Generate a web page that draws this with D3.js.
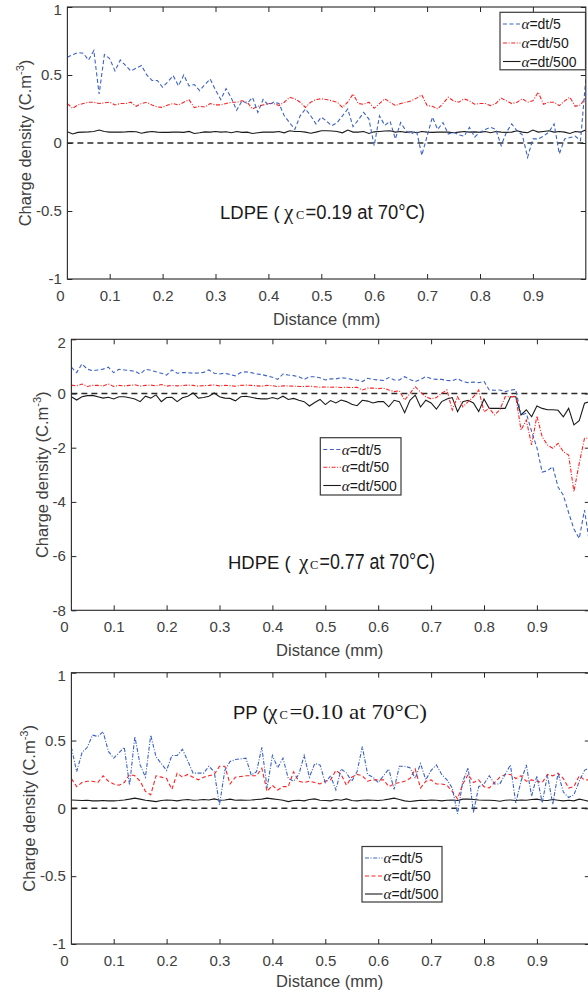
<!DOCTYPE html>
<html><head><meta charset="utf-8">
<script src="https://cdn.jsdelivr.net/npm/d3@7"></script>
<style>html,body{margin:0;padding:0;background:#fff;}svg{display:block;}</style>
</head><body>
<script>
// ---------- data ----------
const distance = [0.02,0.03,0.04,0.05,0.06,0.07,0.08,0.09,0.10,0.11,
0.12,0.13,0.14,0.15,0.16,0.17,0.18,0.19,0.20,0.21,
0.22,0.23,0.24,0.25,0.26,0.27,0.28,0.29,0.30,0.31,
0.32,0.33,0.34,0.35,0.36,0.37,0.38,0.39,0.40,0.41,
0.42,0.43,0.44,0.45,0.46,0.47,0.48,0.49,0.50,0.51,
0.52,0.53,0.54,0.55,0.56,0.57,0.58,0.59,0.60,0.61,
0.62,0.63,0.64,0.65,0.66,0.67,0.68,0.69,0.70,0.71,
0.72,0.73,0.74,0.75,0.76,0.77,0.78,0.79,0.80,0.81,
0.82,0.83,0.84,0.85,0.86,0.87,0.88,0.89,0.90,0.91,
0.92,0.93,0.94,0.95,0.96,0.97,0.98,0.99,1.00];

const ldpe5 = [0.63,0.65,0.665,0.66,0.61,0.68,0.36,0.65,0.62,0.53,
0.61,0.57,0.53,0.55,0.57,0.5,0.46,0.46,0.41,0.45,
0.495,0.42,0.5,0.42,0.43,0.385,0.43,0.47,0.39,0.32,
0.40,0.33,0.24,0.31,0.29,0.335,0.225,0.32,0.28,0.3,
0.29,0.2,0.15,0.10,0.2,0.25,0.2,0.14,0.19,0.16,
0.127,0.15,0.2,0.25,0.12,0.17,0.225,0.176,-0.02,0.2,
0.13,0.16,0.03,0.15,0.09,0.066,0.09,-0.09,0.05,0.19,
0.10,0.15,0.066,0.08,0.06,0.05,0.115,0.044,0.08,0.10,
0.115,0.10,-0.02,0.08,0.14,0.09,0.06,-0.105,0.03,0.03,
0.05,0.08,0.14,-0.08,0.03,0.04,0.05,0.017,0.47];
const ldpe50 = [0.29,0.255,0.28,0.29,0.30,0.30,0.29,0.295,0.30,0.28,
0.29,0.29,0.30,0.27,0.29,0.30,0.28,0.265,0.262,0.28,
0.29,0.28,0.30,0.318,0.26,0.27,0.265,0.29,0.28,0.28,
0.29,0.30,0.30,0.31,0.30,0.25,0.27,0.28,0.29,0.29,
0.275,0.30,0.336,0.325,0.30,0.262,0.30,0.32,0.325,0.32,
0.31,0.30,0.262,0.30,0.36,0.29,0.285,0.30,0.255,0.29,
0.325,0.30,0.275,0.29,0.30,0.31,0.33,0.353,0.275,0.27,
0.25,0.29,0.336,0.31,0.30,0.325,0.31,0.285,0.29,0.29,
0.275,0.29,0.33,0.31,0.29,0.30,0.325,0.30,0.31,0.373,
0.285,0.30,0.30,0.275,0.31,0.336,0.27,0.28,0.336];
const ldpe500 = [0.083,0.066,0.078,0.08,0.082,0.085,0.095,0.085,0.08,0.08,
0.08,0.082,0.085,0.083,0.072,0.08,0.085,0.08,0.078,0.078,
0.08,0.08,0.078,0.085,0.07,0.075,0.082,0.08,0.085,0.08,
0.083,0.075,0.085,0.078,0.08,0.07,0.075,0.08,0.08,0.08,
0.085,0.075,0.09,0.085,0.085,0.08,0.072,0.08,0.09,0.09,
0.088,0.085,0.075,0.095,0.08,0.08,0.085,0.07,0.082,0.085,
0.088,0.09,0.08,0.085,0.078,0.083,0.075,0.085,0.08,0.078,
0.08,0.08,0.08,0.075,0.08,0.085,0.08,0.082,0.078,0.085,
0.075,0.085,0.08,0.078,0.08,0.09,0.08,0.075,0.095,0.08,
0.085,0.09,0.08,0.085,0.08,0.07,0.085,0.08,0.095];

const hdpe5 = [0.97,0.77,1.09,0.9,0.84,0.87,0.9,0.97,0.77,0.89,
0.87,0.85,0.82,0.72,0.89,0.86,0.8,0.75,0.68,0.87,
0.75,0.77,0.77,0.75,0.76,0.78,0.87,0.75,0.72,0.75,
0.7,0.65,0.77,0.8,0.77,0.72,0.7,0.65,0.6,0.52,
0.72,0.68,0.66,0.62,0.52,0.62,0.62,0.58,0.5,0.54,
0.54,0.58,0.56,0.52,0.5,0.44,0.56,0.52,0.5,0.48,
0.59,0.5,0.5,0.62,0.52,0.44,0.52,0.62,0.55,0.52,
0.52,0.48,0.47,0.55,0.44,0.40,0.42,0.40,0.45,0.13,
0.12,0.13,0.07,0.12,0.15,-0.8,-0.73,-1.4,-2.0,-2.9,
-2.85,-2.7,-3.45,-3.75,-4.4,-5.0,-5.35,-4.3,-5.6];
const hdpe50 = [0.31,0.28,0.35,0.26,0.3,0.3,0.28,0.35,0.26,0.3,
0.28,0.3,0.32,0.27,0.3,0.31,0.28,0.33,0.27,0.3,
0.28,0.29,0.31,0.3,0.27,0.29,0.3,0.32,0.28,0.3,
0.29,0.27,0.3,0.31,0.3,0.28,0.27,0.3,0.29,0.25,
0.28,0.28,0.27,0.26,0.26,0.27,0.25,0.23,0.24,0.23,
0.24,0.22,0.23,0.22,0.23,0.13,0.2,0.2,0.18,0.2,
0.13,0.07,0.1,-0.24,0.0,0.25,0.05,-0.12,-0.2,-0.15,
0.01,0.13,-0.61,-0.12,-0.49,-0.3,-0.12,0.13,-0.67,-0.55,
-0.79,-0.6,-0.12,-0.12,-0.1,-1.35,-0.98,-1.9,-0.83,-1.6,
-1.9,-2.02,-1.84,-2.15,-2.27,-3.62,-2.58,-1.65,-1.65];
const hdpe500 = [-0.12,-0.24,-0.12,-0.08,-0.07,-0.12,-0.17,-0.14,-0.2,-0.12,
-0.12,-0.16,-0.2,-0.3,-0.1,-0.17,-0.05,-0.3,-0.15,-0.14,
-0.3,-0.16,-0.1,0.02,-0.17,-0.15,-0.1,0.02,-0.12,-0.17,
-0.18,-0.27,-0.12,-0.1,-0.14,-0.18,-0.2,-0.2,-0.15,-0.2,
-0.1,-0.22,-0.18,-0.25,-0.3,-0.46,-0.33,-0.22,-0.41,-0.26,
-0.35,-0.24,-0.3,-0.4,-0.45,-0.25,-0.28,-0.35,-0.3,-0.3,
-0.49,-0.25,-0.3,-0.71,-0.25,-0.06,-0.5,-0.25,-0.35,-0.58,
-0.3,-0.2,-0.15,-0.67,-0.3,-0.25,-0.35,-0.67,-0.2,-0.55,
-0.55,-0.55,-0.55,-0.12,-0.12,-0.79,-0.6,-0.86,-0.46,-0.55,
-0.6,-0.6,-0.62,-0.86,-0.55,-1.16,-1.0,-0.36,-0.3];

const pp5 = [0.45,0.27,0.41,0.45,0.54,0.53,0.565,0.42,0.37,0.41,
0.45,0.17,0.53,0.32,0.23,0.54,0.38,0.33,0.28,0.39,
0.39,0.435,0.35,0.26,0.26,0.26,0.31,0.27,0.025,0.28,
0.345,0.36,0.365,0.37,0.245,0.27,0.45,0.15,0.39,0.3,
0.37,0.22,0.2,0.25,0.39,0.23,0.33,0.32,0.19,0.24,
0.136,0.29,0.26,0.2,0.27,0.455,0.25,0.23,0.19,0.24,
0.29,0.14,0.31,0.31,0.3,0.22,0.33,0.21,0.28,0.32,
0.25,0.21,0.15,-0.04,0.2,0.30,-0.03,0.16,0.18,0.24,
0.18,0.18,0.25,0.32,0.04,0.2,0.32,0.09,0.24,0.04,
0.245,0.03,0.26,0.12,0.08,0.1,0.2,0.28,0.3];
const pp50 = [0.22,0.16,0.19,0.2,0.2,0.19,0.24,0.2,0.18,0.17,
0.19,0.25,0.24,0.2,0.125,0.1,0.24,0.23,0.22,0.14,
0.26,0.23,0.25,0.23,0.21,0.23,0.24,0.25,0.31,0.31,
0.18,0.23,0.235,0.24,0.24,0.24,0.295,0.125,0.17,0.135,
0.16,0.16,0.27,0.2,0.19,0.2,0.19,0.18,0.2,0.21,
0.28,0.25,0.17,0.23,0.25,0.24,0.2,0.21,0.21,0.21,
0.16,0.18,0.19,0.2,0.22,0.29,0.15,0.2,0.21,0.18,
0.18,0.17,0.125,0.07,0.18,0.25,0.19,0.21,0.16,0.15,
0.19,0.23,0.25,0.25,0.22,0.24,0.2,0.21,0.2,0.19,
0.25,0.24,0.26,0.22,0.15,0.16,0.24,0.21,0.21];
const pp500 = [0.062,0.06,0.058,0.06,0.055,0.055,0.058,0.055,0.055,0.058,
0.062,0.068,0.075,0.068,0.06,0.055,0.05,0.058,0.062,0.06,
0.055,0.062,0.065,0.06,0.062,0.065,0.062,0.07,0.06,0.062,
0.068,0.06,0.062,0.06,0.062,0.065,0.068,0.075,0.07,0.065,
0.06,0.05,0.058,0.06,0.055,0.065,0.07,0.06,0.058,0.055,
0.065,0.06,0.07,0.058,0.055,0.06,0.062,0.06,0.058,0.062,
0.068,0.075,0.065,0.055,0.05,0.055,0.06,0.058,0.062,0.06,
0.055,0.06,0.062,0.058,0.068,0.068,0.065,0.062,0.06,0.06,
0.058,0.052,0.06,0.062,0.058,0.062,0.06,0.065,0.068,0.06,
0.058,0.065,0.06,0.055,0.06,0.055,0.068,0.06,0.05];

const seriesLabels = ["=dt/5", "=dt/50", "=dt/500"];
const xTicks = [0, 0.1, 0.2, 0.3, 0.4, 0.5, 0.6, 0.7, 0.8, 0.9];
const yTicksUnit = [-1, -0.5, 0, 0.5, 1];
const yTicksHdpe = [-8, -6, -4, -2, 0, 2];
const materials = ["LDPE", "HDPE", "PP"];
const crystallinity = ["0.19", "0.77", "0.10"];

// ---------- drawing ----------
const W = 588, H = 997;
const svg = d3.select("body").append("svg").attr("width", W).attr("height", H);
const SANS = "'Liberation Sans', Arial, Helvetica, sans-serif";
const SERIF = "'Liberation Serif', 'Times New Roman', serif";
const BLUE = "#3c62c8", RED = "#ff2222", BLACK = "#1a1a1a";
const DASH = "4,2.5", DASHDOT = "4,1.6,1,1.6";

const panels = [
  { x0: 56.8, yTop: 7, yBot: 279, dom: [-1, 1], yTicks: yTicksUnit,
    series: [ldpe5, ldpe50, ldpe500],
    styles: [{c: BLUE, d: DASH}, {c: RED, d: DASHDOT}, {c: BLACK, d: null}],
    legend: {x: 500, y: 12.3, w: 85.5, h: 57.5, rows: [24, 43, 61.5]},
    ylabX: 31, xlabY: 325,
    ann: {nameX: 220, base: 219, chiX: 284, cX: 296, numX: 305.5, numW: 119.5, font: SANS, size: 19.5} },
  { x0: 60.8, yTop: 339.3, yBot: 610.3, dom: [-8, 2], yTicks: yTicksHdpe,
    series: [hdpe5, hdpe50, hdpe500],
    styles: [{c: BLUE, d: DASH}, {c: RED, d: DASHDOT}, {c: BLACK, d: null}],
    legend: {x: 320.3, y: 437.7, w: 80.7, h: 57.3, rows: [449.5, 467.3, 485.5]},
    ylabX: 48, xlabY: 656,
    ann: {nameX: 228, base: 569, chiX: 299, cX: 310, numX: 319.5, numW: 115.5, font: SANS, size: 22} },
  { x0: 60.8, yTop: 672.7, yBot: 944, dom: [-1, 1], yTicks: yTicksUnit,
    series: [pp5, pp50, pp500],
    styles: [{c: BLUE, d: DASHDOT}, {c: RED, d: DASH}, {c: BLACK, d: null}],
    legend: {x: 362, y: 846.5, w: 80, h: 55.5, rows: [858, 876, 894]},
    ylabX: 35, xlabY: 987,
    ann: {nameX: 233, base: 719, chiX: 268, cX: 279.5, numX: 289.5, numW: 137.5, font: SERIF, size: 22} }
];

panels.forEach((p, pi) => {
  const x = d3.scaleLinear().domain([0, 1]).range([p.x0, p.x0 + 529]);
  const y = d3.scaleLinear().domain(p.dom).range([p.yBot, p.yTop]);
  const L = x(0.02), R = x(1), T = y(p.dom[1]), B = y(p.dom[0]);
  const g = svg.append("g");

  const clipId = "clip" + pi;
  g.append("clipPath").attr("id", clipId).append("rect")
    .attr("x", L).attr("y", T).attr("width", R - L).attr("height", B - T);

  // zero reference
  g.append("line").attr("x1", L).attr("x2", R).attr("y1", y(0)).attr("y2", y(0))
    .attr("stroke", "#2a2a2a").attr("stroke-width", 1.5).attr("stroke-dasharray", "6,4");

  const line = d3.line().x(d => x(d[0])).y(d => y(d[1]));
  [2, 1, 0].forEach(si => {
    const vals = p.series[si];
    const pts = distance.map((d, i) => [d, vals[i]]).filter(d => d[1] !== undefined);
    g.append("path").attr("d", line(pts)).attr("clip-path", `url(#${clipId})`)
      .attr("fill", "none").attr("stroke", p.styles[si].c).attr("stroke-width", 1.1)
      .attr("stroke-dasharray", p.styles[si].d);
  });

  // axes
  const ax = g.append("g").attr("font-family", SANS);
  const bottom = ax.append("g").attr("transform", `translate(0,${B})`)
    .call(d3.axisBottom(x).tickValues(xTicks).tickSize(-5).tickPadding(11)
      .tickFormat(d => d === 0 ? "0" : d3.format(".1f")(d)));
  bottom.selectAll(".tick").filter(d => d === 0).select("line").remove();
  bottom.selectAll(".tick").filter(d => d === 0).select("text").attr("x", 3);
  ax.append("g").attr("transform", `translate(0,${T})`)
    .call(d3.axisTop(x).tickValues(xTicks.filter(d => d > 0)).tickSize(-5).tickFormat(""));
  const left = ax.append("g").attr("transform", `translate(${L},0)`)
    .call(d3.axisLeft(y).tickValues(p.yTicks).tickSize(-5).tickPadding(5.5)
      .tickFormat(d => String(d)));
  left.selectAll(".tick").filter(d => d === p.dom[1]).select("text").attr("y", 3);
  ax.append("g").attr("transform", `translate(${R},0)`)
    .call(d3.axisRight(y).tickValues(p.yTicks).tickSize(-5).tickFormat(""));
  ax.selectAll(".domain").remove();
  ax.selectAll(".tick line").attr("stroke", "#262626");
  ax.selectAll(".tick text").attr("font-size", 15).attr("fill", "#404040").attr("font-family", SANS);

  // frame
  g.append("rect").attr("x", L).attr("y", T).attr("width", R - L).attr("height", B - T)
    .attr("fill", "none").attr("stroke", "#262626").attr("stroke-width", 1.1);

  // axis labels
  g.append("text").attr("x", (L + Math.min(R, W)) / 2).attr("y", p.xlabY)
    .attr("text-anchor", "middle").attr("font-family", SANS).attr("font-size", 16.5)
    .attr("fill", "#404040").text("Distance (mm)");
  const yl = g.append("text")
    .attr("transform", `translate(${p.ylabX},${(T + B) / 2}) rotate(-90)`)
    .attr("text-anchor", "middle").attr("font-family", SANS).attr("font-size", 16.5)
    .attr("fill", "#404040");
  yl.append("tspan").text("Charge density (C.m");
  yl.append("tspan").attr("font-size", 11).attr("dy", -7).text("-3");
  yl.append("tspan").attr("dy", 7).text(")");

  // annotation
  const a = p.ann;
  g.append("text").attr("x", a.nameX).attr("y", a.base).attr("fill", "#1a1a1a")
    .attr("font-family", SANS).attr("font-size", 18.5).text(materials[pi] + " (");
  g.append("text").attr("x", a.chiX).attr("y", a.base).attr("fill", "#1a1a1a")
    .attr("font-family", SERIF).attr("font-size", 21).text("χ");
  g.append("text").attr("x", a.cX).attr("y", a.base).attr("fill", "#1a1a1a")
    .attr("font-family", SERIF).attr("font-size", 12.5).text("C");
  g.append("text").attr("x", a.numX).attr("y", a.base).attr("fill", "#1a1a1a")
    .attr("font-family", a.font).attr("font-size", a.size)
    .attr("textLength", a.numW).attr("lengthAdjust", "spacingAndGlyphs")
    .text("=" + crystallinity[pi] + " at 70°C)");

  // legend
  const lg = p.legend;
  g.append("rect").attr("x", lg.x).attr("y", lg.y).attr("width", lg.w).attr("height", lg.h)
    .attr("fill", "#fff").attr("stroke", "#3a3a3a").attr("stroke-width", 1.2);
  seriesLabels.forEach((lab, si) => {
    const ry = lg.rows[si];
    g.append("line").attr("x1", lg.x + 3).attr("x2", lg.x + 20.5).attr("y1", ry).attr("y2", ry)
      .attr("stroke", p.styles[si].c).attr("stroke-width", 1.1)
      .attr("stroke-dasharray", p.styles[si].d);
    const t = g.append("text").attr("x", lg.x + 21.5).attr("y", ry + 5).attr("fill", "#1a1a1a");
    t.append("tspan").attr("font-family", SERIF).attr("font-style", "italic").attr("font-size", 15).text("α");
    t.append("tspan").attr("font-family", SANS).attr("font-size", 14).text(lab);
  });
});
</script>
</body></html>
